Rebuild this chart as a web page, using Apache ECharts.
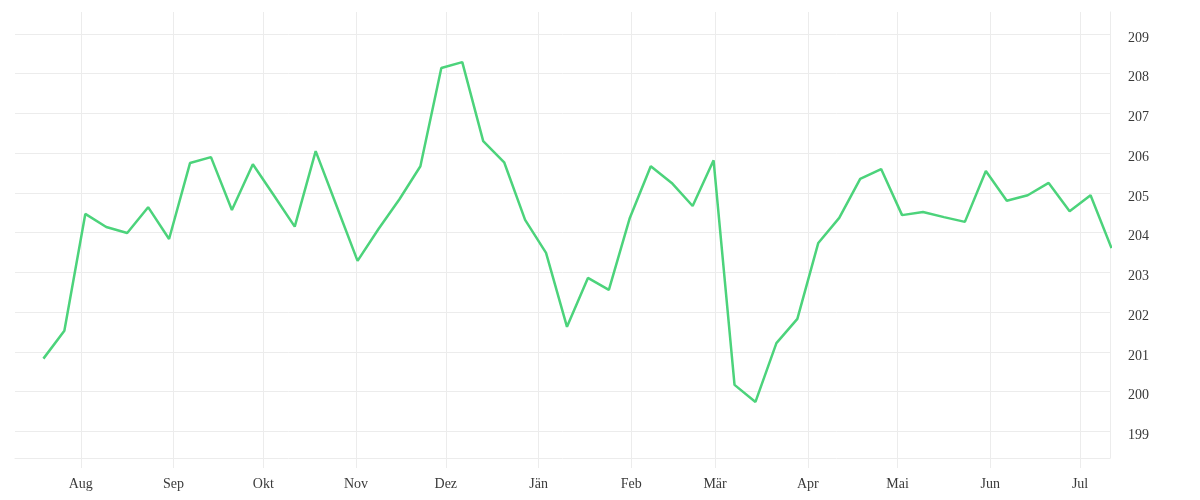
<!DOCTYPE html>
<html>
<head>
<meta charset="utf-8">
<script src="https://cdn.jsdelivr.net/npm/echarts@6/dist/echarts.min.js"></script>
<style>
  html, body { margin: 0; padding: 0; background: #ffffff; }
  #chart { width: 1200px; height: 500px; }
</style>
</head>
<body>
<div id="chart"></div>
<script>
// Weekly observation dates
const dates = [
  '2022-07-19T12:00', '2022-07-26T12:00', '2022-08-02T12:00', '2022-08-09T12:00', '2022-08-16T12:00',
  '2022-08-23T12:00', '2022-08-30T12:00', '2022-09-06T12:00', '2022-09-13T12:00', '2022-09-20T12:00',
  '2022-09-27T12:00', '2022-10-04T12:00', '2022-10-11T12:00', '2022-10-18T12:00', '2022-10-25T12:00',
  '2022-11-01T12:00', '2022-11-08T12:00', '2022-11-15T12:00', '2022-11-22T12:00', '2022-11-29T12:00',
  '2022-12-06T12:00', '2022-12-13T12:00', '2022-12-20T12:00', '2022-12-27T12:00', '2023-01-03T12:00',
  '2023-01-10T12:00', '2023-01-17T12:00', '2023-01-24T12:00', '2023-01-31T12:00', '2023-02-07T12:00',
  '2023-02-14T12:00', '2023-02-21T12:00', '2023-02-28T12:00', '2023-03-07T12:00', '2023-03-14T12:00',
  '2023-03-21T12:00', '2023-03-28T12:00', '2023-04-04T12:00', '2023-04-11T12:00', '2023-04-18T12:00',
  '2023-04-25T12:00', '2023-05-02T12:00', '2023-05-09T12:00', '2023-05-16T12:00', '2023-05-23T12:00',
  '2023-05-30T12:00', '2023-06-06T12:00', '2023-06-13T12:00', '2023-06-20T12:00', '2023-06-27T12:00',
  '2023-07-04T12:00', '2023-07-11T12:00'
];

// Series values
const values = [
  200.83, 201.53, 204.47, 204.14, 203.99, 204.64, 203.84, 205.75, 205.90, 204.57,
  205.72, 204.94, 204.15, 206.05, 204.67, 203.29, 204.09, 204.84, 205.67, 208.14,
  208.29, 206.30, 205.77, 204.32, 203.49, 201.63, 202.86, 202.56, 204.37, 205.67,
  205.25, 204.67, 205.82, 200.17, 199.74, 201.22, 201.83, 203.74, 204.37, 205.35,
  205.60, 204.44, 204.52, 204.39, 204.27, 205.55, 204.80, 204.94, 205.25, 204.54,
  204.94, 203.61
];

// Month tick labels (German / Austrian)
const monthLabels = ['Jän', 'Feb', 'Mär', 'Apr', 'Mai', 'Jun', 'Jul', 'Aug', 'Sep', 'Okt', 'Nov', 'Dez'];

// Axis extents
const xMin = '2022-07-10T00:00';
const xMax = '2023-07-11T00:00';
const yMin = 198.33;
const yMax = 209.55;

const gridColor = '#ececec';
const textColor = '#3a3a3a';
const fontFamily = '"Liberation Serif", "DejaVu Serif", serif';

const chart = echarts.init(document.getElementById('chart'), null, { renderer: 'canvas' });

chart.setOption({
  animation: false,
  backgroundColor: '#ffffff',
  grid: { left: 15, right: 90, top: 12, bottom: 42, containLabel: false },
  xAxis: {
    type: 'time',
    min: new Date(xMin).getTime(),
    max: new Date(xMax).getTime(),
    splitNumber: 12,
    minInterval: 28 * 86400000,
    maxInterval: 31 * 86400000,
    axisLine: { show: true, lineStyle: { color: gridColor, width: 1 } },
    axisTick: { show: true, length: 10, lineStyle: { color: gridColor, width: 1 } },
    splitLine: { show: true, showMinLine: false, showMaxLine: true, lineStyle: { color: gridColor, width: 1 } },
    axisLabel: {
      margin: 19,
      color: textColor,
      fontFamily: fontFamily,
      fontSize: 14,
      hideOverlap: true,
      formatter: function (v) { return monthLabels[new Date(v).getMonth()]; }
    }
  },
  yAxis: {
    type: 'value',
    position: 'right',
    min: yMin,
    max: yMax,
    splitNumber: 10,
    minInterval: 1,
    maxInterval: 1,
    axisLine: { show: true, lineStyle: { color: gridColor, width: 1 } },
    axisTick: { show: false },
    splitLine: { show: true, showMinLine: false, showMaxLine: false, lineStyle: { color: gridColor, width: 1 } },
    axisLabel: {
      margin: 18,
      verticalAlign: 'top',
      lineHeight: 8,
      color: textColor,
      fontFamily: fontFamily,
      fontSize: 14,
      showMinLabel: false,
      showMaxLabel: false,
      formatter: function (v) { return Number.isInteger(v) ? String(v) : ''; }
    }
  },
  series: [{
    type: 'line',
    data: dates.map((d, i) => [new Date(d).getTime(), values[i]]),
    showSymbol: false,
    smooth: false,
    clip: true,
    lineStyle: { color: '#4cd37b', width: 2.5 },
    itemStyle: { color: '#4cd37b' }
  }]
});
</script>
</body>
</html>
